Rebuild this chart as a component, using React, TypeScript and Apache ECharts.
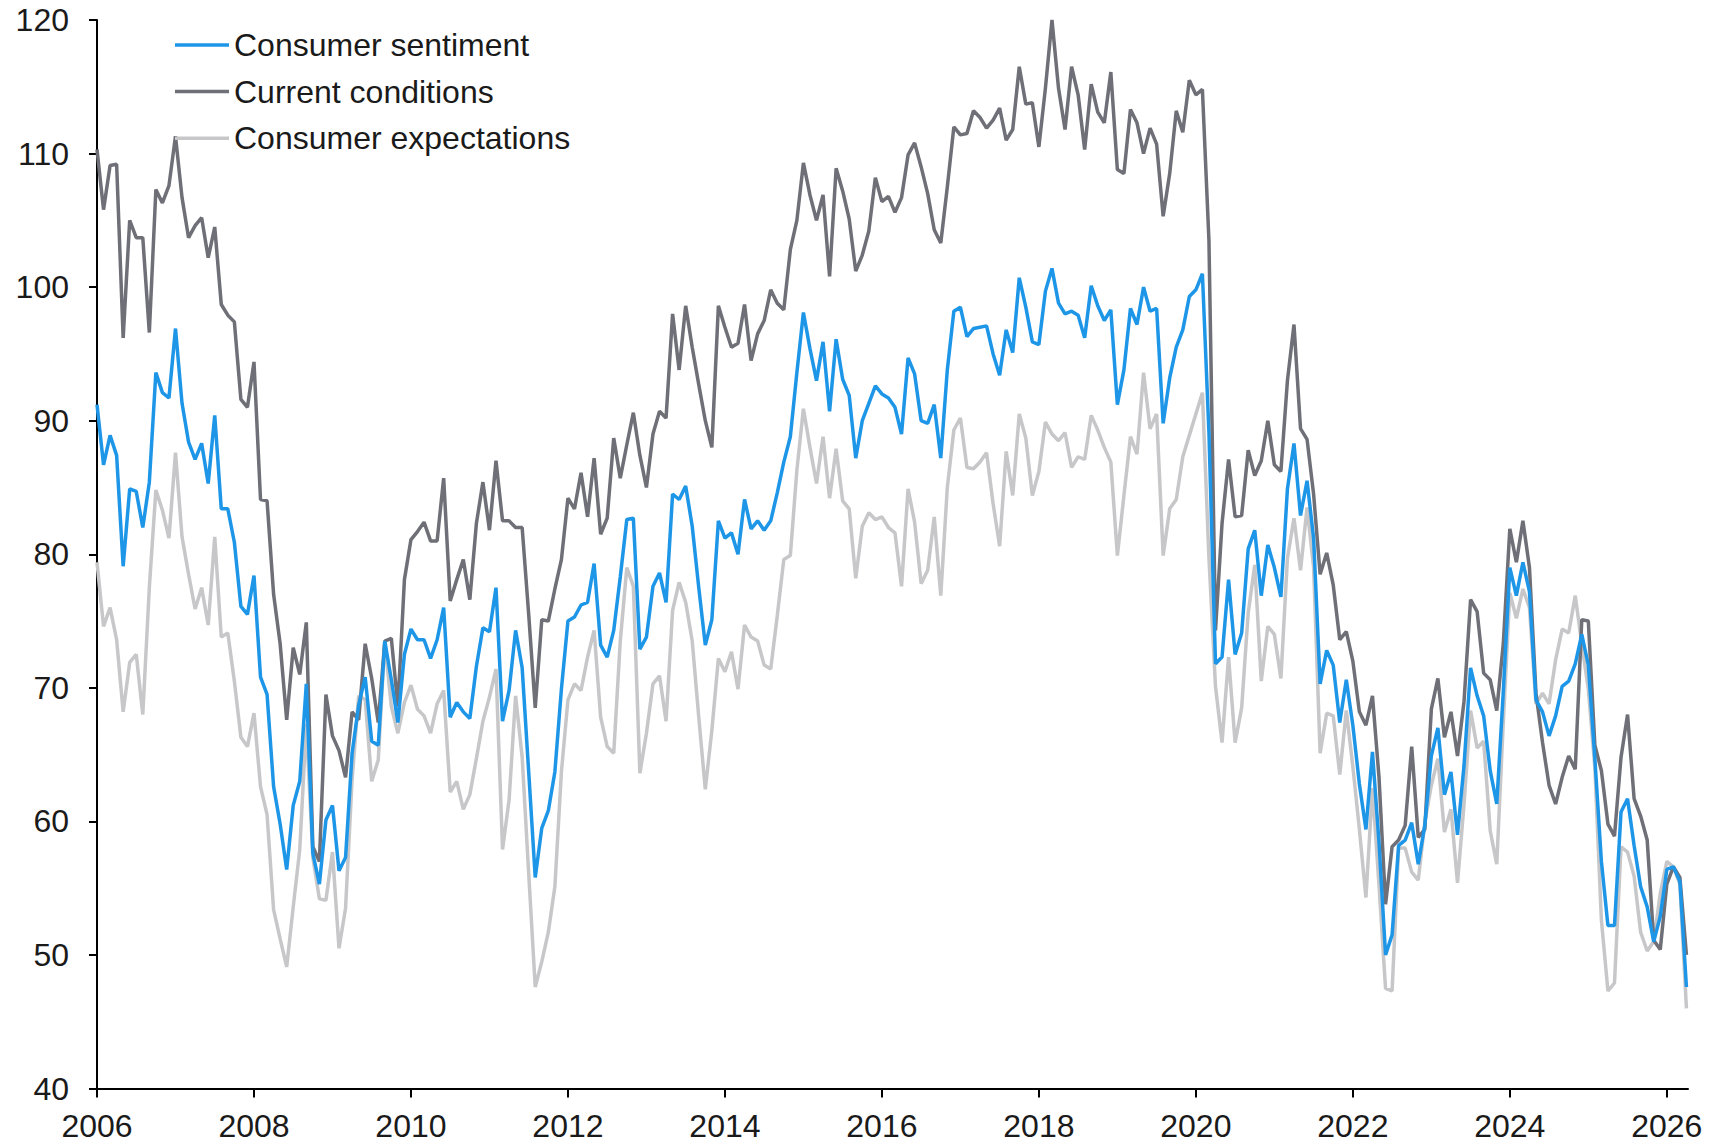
import React, { useEffect, useRef } from "react";
import * as echarts from "echarts";

const START_YEAR = 2006;
const X_MAX = 2026.27;
const yearTicks = [2006, 2008, 2010, 2012, 2014, 2016, 2018, 2020, 2022, 2024, 2026];
const seriesNames = ["Consumer sentiment", "Current conditions", "Consumer expectations"];
const seriesColors = ["#1E96E8", "#6E6F77", "#C7C7C9"];

// Monthly values, Jan 2006 .. Apr 2026
const sentiment = [
  91.2, 86.7, 88.9, 87.4, 79.1, 84.9, 84.7, 82.0, 85.4, 93.6, 92.1, 91.7,
  96.9, 91.3, 88.4, 87.1, 88.3, 85.3, 90.4, 83.4, 83.4, 80.9, 76.1, 75.5,
  78.4, 70.8, 69.5, 62.6, 59.8, 56.4, 61.2, 63.0, 70.3, 57.6, 55.3, 60.1,
  61.2, 56.3, 57.3, 65.1, 68.7, 70.8, 66.0, 65.7, 73.5, 70.6, 67.4, 72.5,
  74.4, 73.6, 73.6, 72.2, 73.6, 76.0, 67.8, 68.9, 68.2, 67.7, 71.6, 74.5,
  74.2, 77.5, 67.5, 69.8, 74.3, 71.5, 63.7, 55.8, 59.5, 60.8, 63.7, 69.9,
  75.0, 75.3, 76.2, 76.4, 79.3, 73.2, 72.3, 74.3, 78.3, 82.6, 82.7, 72.9,
  73.8, 77.6, 78.6, 76.4, 84.5, 84.1, 85.1, 82.1, 77.5, 73.2, 75.1, 82.5,
  81.2, 81.6, 80.0, 84.1, 81.9, 82.5, 81.8, 82.5, 84.6, 86.9, 88.8, 93.6,
  98.1, 95.4, 93.0, 95.9, 90.7, 96.1, 93.1, 91.9, 87.2, 90.0, 91.3, 92.6,
  92.0, 91.7, 91.0, 89.0, 94.7, 93.5, 90.0, 89.8, 91.2, 87.2, 93.8, 98.2,
  98.5, 96.3, 96.9, 97.0, 97.1, 95.0, 93.4, 96.8, 95.1, 100.7, 98.5, 95.9,
  95.7, 99.7, 101.4, 98.8, 98.0, 98.2, 97.9, 96.2, 100.1, 98.6, 97.5, 98.3,
  91.2, 93.8, 98.4, 97.2, 100.0, 98.2, 98.4, 89.8, 93.2, 95.5, 96.8, 99.3,
  99.8, 101.0, 89.1, 71.8, 72.3, 78.1, 72.5, 74.1, 80.4, 81.8, 76.9, 80.7,
  79.0, 76.8, 84.9, 88.3, 82.9, 85.5, 81.2, 70.3, 72.8, 71.7, 67.4, 70.6,
  67.2, 62.8, 59.4, 65.2, 58.4, 50.0, 51.5, 58.2, 58.6, 59.9, 56.8, 59.7,
  64.9, 67.0, 62.0, 63.7, 59.0, 64.2, 71.5, 69.4, 67.9, 63.8, 61.3, 69.7,
  79.0, 76.9, 79.4, 77.2, 69.1, 68.2, 66.4, 67.9, 70.1, 70.5, 71.8, 74.0,
  71.7, 64.7, 57.0, 52.2, 52.2, 60.7, 61.7, 58.2, 55.1, 53.6, 51.0, 52.9,
  56.4, 56.6, 55.5, 47.6,
];

const currentConditions = [
  110.3, 105.8, 109.1, 109.2, 96.2, 105.0, 103.7, 103.7, 96.6, 107.3, 106.3, 107.6,
  111.3, 106.7, 103.7, 104.6, 105.2, 102.2, 104.5, 98.7, 97.9, 97.4, 91.6, 91.0,
  94.4, 84.1, 84.0, 77.0, 73.3, 67.6, 73.0, 71.0, 74.9, 58.1, 57.0, 69.5,
  66.4, 65.3, 63.3, 68.2, 67.6, 73.3, 70.7, 67.4, 73.5, 73.7, 68.6, 78.1,
  81.1, 81.7, 82.4, 81.0, 81.0, 85.7, 76.5, 78.1, 79.6, 76.6, 82.3, 85.4,
  81.8, 87.0, 82.5, 82.5, 82.0, 82.0, 75.5, 68.5, 75.1, 75.0, 77.4, 79.6,
  84.2, 83.4, 86.1, 82.8, 87.2, 81.5, 82.7, 88.7, 85.7, 88.2, 90.6, 87.4,
  85.0, 89.0, 90.7, 90.2, 98.0, 93.8, 98.6, 95.5, 92.7, 90.0, 88.0, 98.6,
  97.0, 95.5, 95.8, 98.7, 94.5, 96.5, 97.5, 99.8, 98.8, 98.3, 102.8, 105.0,
  109.3, 106.9, 105.0, 106.9, 100.8, 108.9, 107.2, 105.1, 101.2, 102.4, 104.2, 108.2,
  106.4, 106.8, 105.6, 106.7, 109.9, 110.8, 109.0, 107.0, 104.3, 103.3, 107.5, 112.0,
  111.4, 111.5, 113.2, 112.7, 111.9, 112.5, 113.4, 111.0, 111.8, 116.5, 113.7, 113.8,
  110.5, 114.9, 120.0, 114.9, 111.8, 116.5, 114.4, 110.3, 115.2, 113.1, 112.3, 116.1,
  108.8, 108.5, 113.3, 112.3, 110.0, 111.9, 110.7, 105.3, 108.5, 113.2, 111.6, 115.5,
  114.4, 114.8, 103.5, 74.3, 82.3, 87.1, 82.8, 82.9, 87.8, 85.9, 87.0, 90.0,
  86.7, 86.2, 93.0, 97.2, 89.4, 88.6, 84.5, 78.5, 80.1, 77.7, 73.6, 74.2,
  72.0, 68.2, 67.2, 69.4, 63.3, 53.8, 58.1, 58.6, 59.7, 65.6, 58.8, 59.4,
  68.4, 70.7, 66.3, 68.2, 64.9, 69.0, 76.6, 75.7, 71.1, 70.6, 68.3, 73.3,
  81.9, 79.4, 82.5, 79.0, 69.6, 65.9, 62.7, 61.3, 63.3, 64.9, 63.9, 75.1,
  75.0, 65.7, 63.8, 59.8, 58.9, 64.8, 68.0, 61.7, 60.4, 58.6, 51.1, 50.4,
  55.3, 56.6, 55.8, 50.0,
];

const expectations = [
  79.4, 74.6, 76.0, 73.6, 68.2, 71.9, 72.5, 68.0, 77.5, 84.8, 83.3, 81.2,
  87.6, 81.3, 78.5, 75.9, 77.5, 74.7, 81.3, 73.8, 74.1, 70.5, 66.3, 65.6,
  68.1, 62.6, 60.5, 53.4, 51.2, 49.1, 53.6, 57.9, 67.3, 57.3, 54.2, 54.1,
  57.7, 50.5, 53.5, 63.1, 69.4, 69.1, 63.0, 64.6, 73.5, 68.6, 66.6, 68.9,
  70.2, 68.4, 67.9, 66.6, 68.8, 69.8, 62.2, 63.0, 60.9, 62.0, 64.7, 67.5,
  69.3, 71.4, 57.9, 61.6, 69.4, 64.8, 56.1, 47.6, 49.5, 51.7, 55.1, 63.7,
  69.1, 70.3, 69.8, 72.3, 74.3, 67.8, 65.6, 65.1, 73.5, 79.0, 77.6, 63.6,
  66.6, 70.3, 70.9, 67.5, 75.8, 77.9, 76.4, 73.5, 67.8, 62.4, 66.8, 72.2,
  71.2, 72.7, 69.9, 74.7, 73.8, 73.5, 71.7, 71.4, 75.4, 79.6, 79.9, 86.3,
  90.9, 88.0, 85.3, 88.8, 84.2, 87.9, 84.0, 83.4, 78.2, 82.1, 83.1, 82.6,
  82.8, 82.0, 81.6, 77.6, 84.9, 82.4, 77.8, 78.8, 82.8, 76.9, 85.0, 89.3,
  90.2, 86.5, 86.4, 86.9, 87.6, 83.8, 80.6, 87.7, 84.4, 90.5, 88.7, 84.4,
  86.2, 89.9, 89.0, 88.5, 89.1, 86.5, 87.3, 87.1, 90.4, 89.3, 88.0, 86.9,
  79.9, 84.4, 88.8, 87.5, 93.6, 89.4, 90.5, 79.9, 83.4, 84.1, 87.3, 88.9,
  90.5, 92.1, 79.7, 70.1, 65.9, 72.3, 65.9, 68.5, 75.6, 79.2, 70.5, 74.6,
  74.0, 70.7, 79.7, 82.7, 78.8, 83.5, 79.0, 65.1, 68.1, 67.9, 63.5, 68.3,
  64.1, 59.4, 54.3, 62.5, 55.2, 47.5, 47.3, 58.0, 58.0, 56.2, 55.6, 59.9,
  62.7, 64.7, 59.2, 60.9, 55.4, 61.3, 68.3, 65.5, 66.0, 59.3, 56.8, 67.4,
  77.1, 75.2, 77.4, 76.0, 68.8, 69.6, 68.8, 72.1, 74.4, 74.1, 76.9, 73.3,
  69.9, 64.0, 52.6, 47.3, 47.9, 58.1, 57.7, 55.9, 51.7, 50.3, 51.0, 54.6,
  57.0, 56.6, 55.3, 46.0,
];

const toPoints = (vals: number[]) => vals.map((v, i) => [START_YEAR + i / 12, v]);

const FONT = "'Liberation Sans', Arial, Helvetica, sans-serif";
const TEXT_COLOR = "#1a1a1a";
const FONT_SIZE = 32;

export default function App() {
  const ref = useRef<HTMLDivElement>(null);

  useEffect(() => {
    document.body.style.margin = "0";
    if (!ref.current) return;
    const chart = echarts.init(ref.current, undefined, { renderer: "svg" });
    const valuesList = [sentiment, currentConditions, expectations];
    const zs = [3, 2, 1];
    chart.setOption({
      animation: false,
      backgroundColor: "#ffffff",
      grid: { left: 97, right: 36, top: 20, bottom: 57.5 },
      legend: {
        data: seriesNames,
        orient: "vertical",
        left: 170,
        top: 24,
        padding: 5,
        icon: "rect",
        itemWidth: 54,
        itemHeight: 3.5,
        itemGap: 14.6,
        textStyle: { fontSize: FONT_SIZE, lineHeight: 32, color: TEXT_COLOR, fontFamily: FONT },
      },
      xAxis: {
        type: "value",
        min: START_YEAR,
        max: X_MAX,
        interval: 2,
        axisLine: { onZero: false, lineStyle: { color: "#000", width: 2 } },
        axisTick: { show: true, length: 9, lineStyle: { color: "#000", width: 2 }, customValues: yearTicks },
        axisLabel: {
          customValues: yearTicks,
          fontSize: FONT_SIZE,
          color: TEXT_COLOR,
          fontFamily: FONT,
          margin: 21,
          formatter: (v: number) => (Math.abs(v - Math.round(v)) < 1e-6 ? String(Math.round(v)) : ""),
        },
        splitLine: { show: false },
      },
      yAxis: {
        type: "value",
        min: 40,
        max: 120,
        interval: 10,
        axisLine: { show: true, lineStyle: { color: "#000", width: 2 } },
        axisTick: { show: true, length: 8, lineStyle: { color: "#000", width: 2 } },
        axisLabel: { fontSize: FONT_SIZE, color: TEXT_COLOR, fontFamily: FONT, margin: 28 },
        splitLine: { show: false },
      },
      series: seriesNames.map((name, k) => ({
        name,
        type: "line",
        data: toPoints(valuesList[k]),
        symbol: "none",
        z: zs[k],
        lineStyle: { color: seriesColors[k], width: 3.5 },
        itemStyle: { color: seriesColors[k] },
      })),
    });
    return () => chart.dispose();
  }, []);

  return <div ref={ref} style={{ width: 1724, height: 1146 }} />;
}
